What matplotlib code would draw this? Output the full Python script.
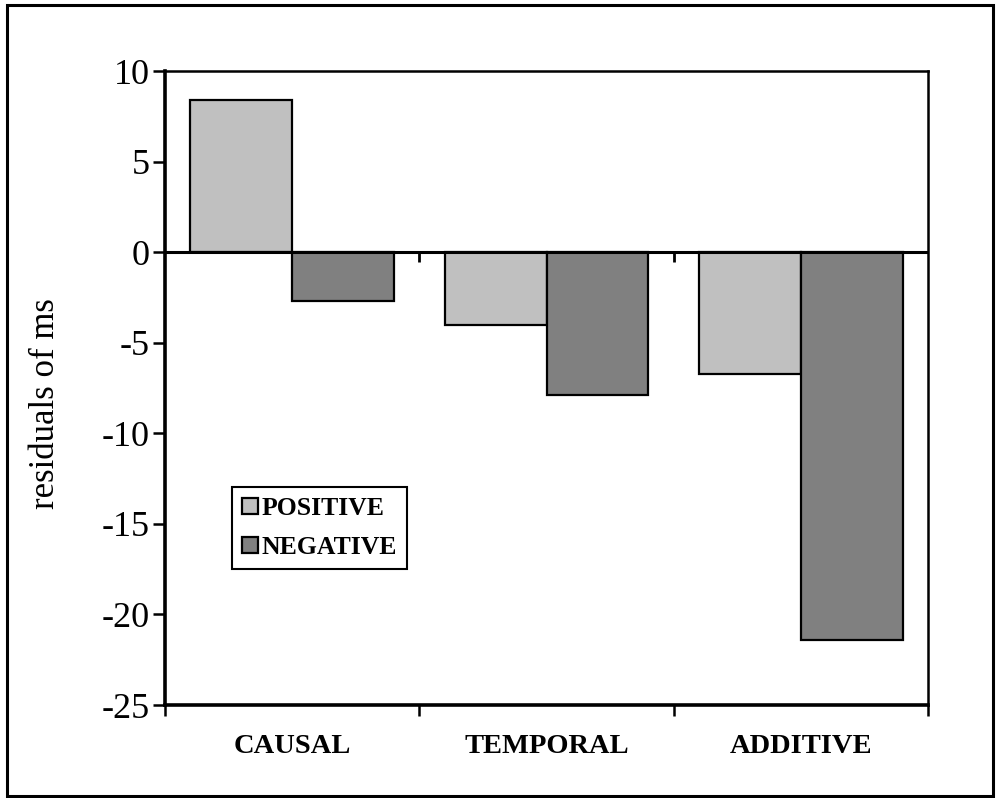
import numpy as np
import matplotlib
matplotlib.use("Agg")
import matplotlib.pyplot as plt
from matplotlib.patches import Rectangle

# ----------------------------------------------------------
# Data
# ----------------------------------------------------------
categories = ["CAUSAL", "TEMPORAL", "ADDITIVE"]
positive = [8.4, -4.0, -6.7]
negative = [-2.7, -7.9, -21.4]
series_names = ["POSITIVE", "NEGATIVE"]
series_colors = ["#c0c0c0", "#808080"]
y_ticks = [10, 5, 0, -5, -10, -15, -20, -25]

plt.rcParams["font.family"] = ["Liberation Serif", "DejaVu Serif"]

fig = plt.figure(figsize=(9.97, 7.98), dpi=100)
ax = fig.add_axes([0.1655, 0.1165, 0.7653, 0.7945])

# outer frame round the whole picture
fig.patches.append(Rectangle((0.007, 0.003), 0.989, 0.991, transform=fig.transFigure,
                             fill=False, edgecolor="black", linewidth=2.2))

# ----------------------------------------------------------
# Bars: each category spans one unit, bars take 0.4 each
# ----------------------------------------------------------
x = np.arange(len(categories))
bar_w = 0.4
ax.bar(x + 0.1, positive, width=bar_w, align="edge", color=series_colors[0],
       edgecolor="black", linewidth=1.6, label=series_names[0], zorder=3)
ax.bar(x + 0.5, negative, width=bar_w, align="edge", color=series_colors[1],
       edgecolor="black", linewidth=1.6, label=series_names[1], zorder=3)

# zero line with its category tick marks
ax.axhline(0, color="black", linewidth=2.2, zorder=4)
ax.vlines(x[1:], 0, -0.55, color="black", linewidth=2.0, zorder=4)

ax.set_xlim(0, len(categories))
ax.set_ylim(-25, 10)
ax.set_yticks(y_ticks)
ax.set_yticklabels([str(t) for t in y_ticks], fontsize=26)

# category boundaries as ticks, names centred between them
ax.set_xticks(np.arange(len(categories) + 1))
ax.set_xticklabels([])
ax.set_xticks(x + 0.5, minor=True)
ax.set_xticklabels(categories, minor=True, fontsize=20.5, fontweight="bold")
ax.tick_params(axis="x", which="minor", length=0, pad=21)
ax.tick_params(axis="x", which="major", direction="out", length=8, width=1.8)
ax.tick_params(axis="y", direction="out", length=9, width=1.8, pad=2)

for side in ["left", "bottom"]:
    ax.spines[side].set_linewidth(2.6)
for side in ["top", "right"]:
    ax.spines[side].set_linewidth(1.8)

ax.set_ylabel("residuals of ms", fontsize=25, va="center")
ax.yaxis.set_label_coords(-0.157, 0.475)

leg = ax.legend(loc="lower left", bbox_to_anchor=(0.088, 0.2145), borderaxespad=0,
                prop={"size": 18.5, "weight": "bold"}, fancybox=False, framealpha=1,
                edgecolor="black", handlelength=0.6, handleheight=0.6,
                handletextpad=0.15, labelspacing=0.6, borderpad=0.4)
leg.get_frame().set_linewidth(1.5)

fig.savefig("out.png", dpi=100)
